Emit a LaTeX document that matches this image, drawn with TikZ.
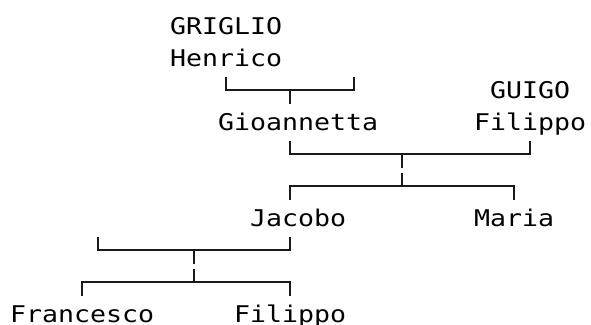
\documentclass[tikz,border=0pt]{standalone}
\usepackage{fontspec}
\newfontfamily\treefont[FakeStretch=1.1556]{DejaVu Sans Mono}
\begin{document}
\begin{tikzpicture}[x=1pt,y=-1pt,
  person/.style={anchor=base west,inner sep=0pt,outer sep=0pt,font=\treefont\fontsize{23pt}{27pt}\selectfont,text=black},
  link/.style={draw=black!90,line width=1.9pt,line cap=butt,line join=miter}]
\useasboundingbox (0,0) rectangle (591,324);
% names
\node[person] (griglio) at (170,34) {GRIGLIO};
\node[person] (henrico) at (170,66) {Henrico};
\node[person] (guigo) at (490,98) {GUIGO};
\node[person] (gioannetta) at (218,130) {Gioannetta};
\node[person] (filippoA) at (474,130) {Filippo};
\node[person] (jacobo) at (250,226) {Jacobo};
\node[person] (maria) at (474,226) {Maria};
\node[person] (francesco) at (10,322) {Francesco};
\node[person] (filippoB) at (234,322) {Filippo};
% row 2 connector
\coordinate (a1) at (226,76.5);
\coordinate (a2) at (226,90);
\coordinate (a3) at (354,90);
\coordinate (a4) at (354,76.5);
\coordinate (am) at (290,90);
\coordinate (ad) at (290,103.5);
\draw[link] (a1) -- (a2) -- (a3) -- (a4);
\draw[link] (am) -- (ad);
% row 4 connector
\coordinate (b1) at (290,140.5);
\coordinate (b2) at (290,154);
\coordinate (b3) at (530,154);
\coordinate (b4) at (530,140.5);
\coordinate (bm) at (402,154);
\coordinate (bd) at (402,167.5);
\draw[link] (b1) -- (b2) -- (b3) -- (b4);
\draw[link] (bm) -- (bd);
% row 5 connector
\coordinate (c1) at (290,199.5);
\coordinate (c2) at (290,186);
\coordinate (c3) at (514,186);
\coordinate (c4) at (514,199.5);
\coordinate (cm) at (402,186);
\coordinate (cu) at (402,172.5);
\draw[link] (c1) -- (c2) -- (c3) -- (c4);
\draw[link] (cm) -- (cu);
% row 7 connector
\coordinate (d1) at (98,236.5);
\coordinate (d2) at (98,250);
\coordinate (d3) at (290,250);
\coordinate (d4) at (290,236.5);
\coordinate (dm) at (194,250);
\coordinate (dd) at (194,263.5);
\draw[link] (d1) -- (d2) -- (d3) -- (d4);
\draw[link] (dm) -- (dd);
% row 8 connector
\coordinate (e1) at (82,295.5);
\coordinate (e2) at (82,282);
\coordinate (e3) at (290,282);
\coordinate (e4) at (290,295.5);
\coordinate (em) at (194,282);
\coordinate (eu) at (194,268.5);
\draw[link] (e1) -- (e2) -- (e3) -- (e4);
\draw[link] (em) -- (eu);
\end{tikzpicture}
\end{document}
